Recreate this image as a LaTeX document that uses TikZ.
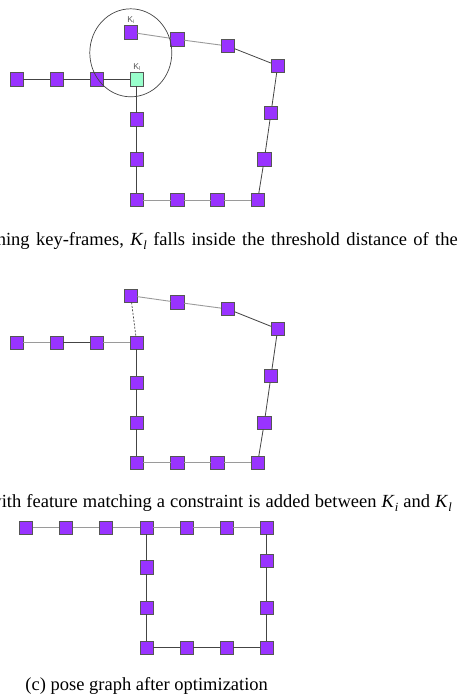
\documentclass[tikz,border=0pt]{standalone}
\usepackage{fontspec}
\usetikzlibrary{shapes.geometric}
\setmainfont{Liberation Serif}
\newfontfamily\labfont{Liberation Sans}
\definecolor{kfviolet}{HTML}{9933FF}
\definecolor{kfgreen}{HTML}{99FFCC}
\definecolor{kfborder}{HTML}{555555}
\definecolor{edark}{HTML}{444444}
\definecolor{elight}{HTML}{9A9A9A}
\newcommand{\capfont}{\fontsize{18.5}{22}\selectfont}
\newcommand{\Ksub}[1]{\textit{K}\raisebox{-0.22em}{\fontsize{12.5}{13}\selectfont\textit{#1}}}
\newcommand{\Klab}[1]{{\labfont\fontsize{8.5}{9}\selectfont K\raisebox{-0.2em}{\fontsize{5.5}{6}\selectfont #1}}}
\tikzset{
  kf/.style={draw=kfborder, fill=kfviolet, line width=0.8pt, minimum size=13.5pt, inner sep=0pt, outer sep=0pt},
  kfg/.style={kf, fill=kfgreen},
  ed/.style={draw=edark, line width=0.8pt},
  el/.style={draw=elight, line width=0.9pt},
  lab/.style={text=kfborder, inner sep=0pt},
  capt/.style={inner sep=0pt, font=\capfont}
}
\begin{document}
\begin{tikzpicture}[x=1pt, y=-1pt]
\useasboundingbox (0,0) rectangle (460,697);
\clip (0,0) rectangle (460,697);
% ---------- panel (a)
\node[kf] (a1) at (16.7,79.3) {};
\node[kf] (a2) at (56.7,79.3) {};
\node[kf] (a3) at (96.7,79.3) {};
\node[kfg] (al) at (136.7,79.3) {};
\node[kf] (a5) at (136.7,119.3) {};
\node[kf] (a6) at (136.7,159.3) {};
\node[kf] (a7) at (136.7,200) {};
\node[kf] (a8) at (177.3,200) {};
\node[kf] (a9) at (217.3,200) {};
\node[kf] (a10) at (257.7,200) {};
\node[kf] (a11) at (264.3,159.3) {};
\node[kf] (a12) at (271,112.7) {};
\node[kf] (a13) at (277.7,65.7) {};
\node[kf] (a14) at (227.7,46) {};
\node[kf] (a15) at (177.3,39.3) {};
\node[kf] (ai) at (130.7,32.3) {};
\draw[ed] (a1) -- (a2) -- (a3) -- (al);
\draw[ed] (al) -- (a5) -- (a6) -- (a7);
\draw[el] (a7) -- (a8) -- (a9) -- (a10);
\draw[ed] (a10) -- (a11) -- (a12) -- (a13) -- (a14);
\draw[el] (a14) -- (a15) -- (ai);
\node[lab, anchor=south] (kila) at (130.7,24) {\Klab{i}};
\node[lab, anchor=south] (klla) at (136.7,71) {\Klab{l}};
\node[draw=edark, line width=0.7pt, ellipse, minimum width=82pt, minimum height=88pt, inner sep=0pt] (thr) at (130.8,52.8) {};
\node[capt, anchor=base east] (capa) at (458,245) {\spaceskip=6.4pt\relax matching key-frames, \Ksub{l} falls inside the threshold distance of the};
% ---------- panel (b)
\node[kf] (b1) at (16.7,342.7) {};
\node[kf] (b2) at (56.7,342.7) {};
\node[kf] (b3) at (96.7,342.7) {};
\node[kf] (b4) at (136.7,342.7) {};
\node[kf] (b5) at (136.7,382.7) {};
\node[kf] (b6) at (136.7,422.7) {};
\node[kf] (b7) at (136.7,462.7) {};
\node[kf] (b8) at (177.3,462.7) {};
\node[kf] (b9) at (217.3,462.7) {};
\node[kf] (b10) at (257.7,462.7) {};
\node[kf] (b11) at (264.3,422.7) {};
\node[kf] (b12) at (271,376) {};
\node[kf] (b13) at (277.7,329) {};
\node[kf] (b14) at (227.7,309) {};
\node[kf] (b15) at (177.3,302.3) {};
\node[kf] (bi) at (130.7,295.7) {};
\draw[el] (b1) -- (b2);
\draw[ed] (b2) -- (b3);
\draw[el] (b3) -- (b4);
\draw[ed] (b4) -- (b5) -- (b6) -- (b7);
\draw[el] (b7) -- (b8) -- (b9) -- (b10);
\draw[ed] (b10) -- (b11) -- (b12) -- (b13) -- (b14);
\draw[el] (b14) -- (b15) -- (bi);
\draw[edark, line width=0.7pt, dash pattern=on 2pt off 1.5pt] (bi) -- (b4);
\node[capt, anchor=base east] (capb) at (452,507.7) {\spaceskip=5.1pt\relax with feature matching a constraint is added between \Ksub{i} and \Ksub{l}};
% ---------- panel (c)
\node[kf] (c1) at (26,527.7) {};
\node[kf] (c2) at (66,527.7) {};
\node[kf] (c3) at (106,527.7) {};
\node[kf] (c4) at (146.7,527.7) {};
\node[kf] (c5) at (186.7,527.7) {};
\node[kf] (c6) at (226.7,527.7) {};
\node[kf] (c7) at (266.7,527.7) {};
\node[kf] (c8) at (266.7,560.7) {};
\node[kf] (c9) at (266.7,607.7) {};
\node[kf] (c10) at (266.7,647.7) {};
\node[kf] (c11) at (226.7,647.7) {};
\node[kf] (c12) at (186.7,647.7) {};
\node[kf] (c13) at (146.7,647.7) {};
\node[kf] (c14) at (146.7,607.7) {};
\node[kf] (c15) at (146.7,567.3) {};
\draw[el] (c1) -- (c2) -- (c3) -- (c4) -- (c5) -- (c6) -- (c7);
\draw[ed] (c7) -- (c8) -- (c9) -- (c10) -- (c11) -- (c12) -- (c13) -- (c14) -- (c15) -- (c4);
\node[capt, anchor=base] (capc) at (146.7,690) {(c) pose graph after optimization};
\end{tikzpicture}
\end{document}
